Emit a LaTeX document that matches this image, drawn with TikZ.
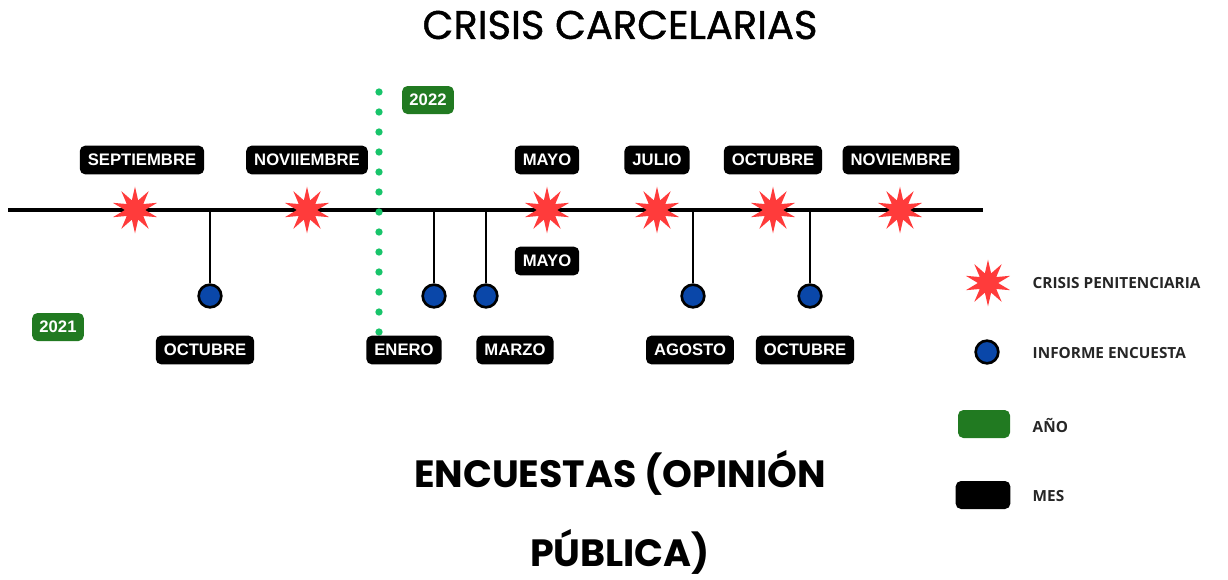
\documentclass[tikz,border=0pt]{standalone}
\usepackage{fontspec}
\setmainfont{Liberation Sans}
\newfontfamily\titlefont[FakeBold=1.2]{Poppins}
\newfontfamily\subfont{Poppins}
\newfontfamily\legendfont{Open Sans}
\usetikzlibrary{shapes.geometric}
\definecolor{starred}{HTML}{FF3B3B}
\definecolor{dotblue}{HTML}{0A47A9}
\definecolor{yeargreen}{HTML}{217A21}
\definecolor{dotgreen}{HTML}{18C46A}
\tikzset{
  month/.style={fill=black, rounded corners=4pt, text=white, font=\bfseries\fontsize{12.5}{14}\selectfont, inner xsep=6pt, inner ysep=0pt, minimum height=21.5pt, text depth=0pt},
  yearbox/.style={fill=yeargreen, rounded corners=4pt, text=white, font=\bfseries\fontsize{12.5}{14}\selectfont, inner xsep=5.5pt, inner ysep=0pt, minimum height=21pt, text depth=0pt},
  crisis/.style={star, star points=10, star point ratio=2.3, fill=starred, draw=none, minimum size=35pt, inner sep=0pt},
  survey/.style={circle, fill=dotblue, draw=black, line width=2pt, minimum size=17pt, inner sep=0pt},
  stem/.style={line width=1.5pt, black},
  legtext/.style={font=\legendfont\bfseries\fontsize{11.5}{13}\selectfont, anchor=west, text=black!85},
  subtitle/.style={font=\subfont\bfseries\fontsize{28.5}{34}\selectfont, inner sep=0pt},
}
\begin{document}
\begin{tikzpicture}[x=0.75pt, y=-0.75pt]
\useasboundingbox (0,0) rectangle (1228,579);
% titles
\node[font=\titlefont\fontsize{30}{34}\selectfont] (title) at (620,25) {CRISIS CARCELARIAS};
\node[subtitle] (sub1) at (620,473) {ENCUESTAS (OPINIÓN};
\node[subtitle] (sub2) at (620,552) {PÚBLICA)};
% axis
\coordinate (axisL) at (8,210);
\coordinate (axisR) at (983,210);
\draw[line width=2.3pt] (axisL) -- (axisR);
% year divider
\coordinate (divT) at (379,92);
\coordinate (divB) at (379,333);
\draw[dotgreen, line width=5.5pt, line cap=round, dash pattern=on 0pt off 15pt] (divT) -- (divB);
% surveys
\node[survey] (s1) at (210,296) {};
\node[survey] (s2) at (434,296) {};
\node[survey] (s3) at (486,296) {};
\node[survey] (s4) at (693,296) {};
\node[survey] (s5) at (810,296) {};
\foreach \s in {s1,s2,s3,s4,s5}{
  \draw[stem] (\s.north) -- (\s.north |- axisL);
}
% crises
\node[crisis] (c1) at (135,210) {};
\node[crisis] (c2) at (307,210) {};
\node[crisis] (c3) at (547,210) {};
\node[crisis] (c4) at (657,210) {};
\node[crisis] (c5) at (773,210) {};
\node[crisis] (c6) at (900,210) {};
% month labels
\node[month] (m1) at (142,160) {SEPTIEMBRE};
\node[month] (m2) at (307,160) {NOVIIEMBRE};
\node[month] (m3) at (547,160) {MAYO};
\node[month] (m4) at (657,160) {JULIO};
\node[month] (m5) at (773,160) {OCTUBRE};
\node[month] (m6) at (901,160) {NOVIEMBRE};
\node[month] (m7) at (547,261) {MAYO};
\node[month] (m8) at (205,350) {OCTUBRE};
\node[month] (m9) at (404,350) {ENERO};
\node[month] (m10) at (515,350) {MARZO};
\node[month] (m11) at (690,350) {AGOSTO};
\node[month] (m12) at (805,350) {OCTUBRE};
% years
\node[yearbox] (y22) at (428,100) {2022};
\node[yearbox] (y21) at (58,327) {2021};
% legend
\node[crisis] (lc) at (988,283) {};
\node[survey] (ls) at (987,352) {};
\node[fill=yeargreen, rounded corners=4pt, minimum width=39pt, minimum height=21pt, inner sep=0pt] (ly) at (984,424) {};
\node[fill=black, rounded corners=4pt, minimum width=41pt, minimum height=21pt, inner sep=0pt] (lm) at (983,495) {};
\node[legtext] (lct) at (1028,283) {CRISIS PENITENCIARIA};
\node[legtext] (lst) at (1028,353) {INFORME ENCUESTA};
\node[legtext] (lyt) at (1028,425) {AÑO};
\node[legtext] (lmt) at (1028,496) {MES};
\end{tikzpicture}
\end{document}
